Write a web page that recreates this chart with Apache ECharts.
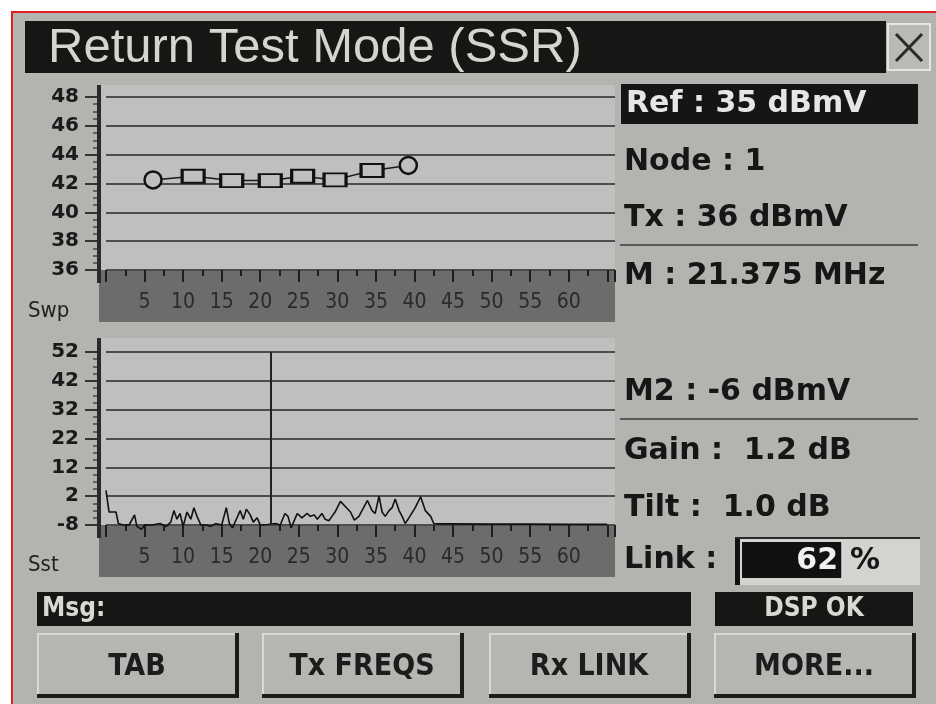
<!DOCTYPE html>
<html>
<head>
<meta charset="utf-8">
<title>Return Test Mode (SSR)</title>
<script src="https://cdn.jsdelivr.net/npm/echarts@6/dist/echarts.min.js"></script>
<style>
  html, body { margin: 0; padding: 0; background: #fff; }
  #chart { width: 936px; height: 704px; }
</style>
</head>
<body>
<div id="chart"></div>
<script>
// upper plot: return sweep levels per carrier
const sweepFreq = [6.1, 11.3, 16.3, 21.3, 25.5, 29.7, 34.5, 39.2];
const sweepLevel = [42.25, 42.5, 42.2, 42.2, 42.5, 42.25, 42.9, 43.25];

// lower plot: spectrum trace
const traceFreq = [0, 0.4, 1.3, 1.6, 2.2, 3.0, 3.7, 4.0, 4.6, 5.0,
  6.0, 7.0, 7.8, 8.4, 8.8, 9.2, 9.6, 10.0, 10.5, 11.0,
  11.4, 11.8, 12.3, 13.0, 13.6, 14.2, 15.0, 15.6, 16.0, 16.4,
  16.9, 17.4, 17.8, 18.2, 18.7, 19.1, 19.6, 20.0, 21.0, 22.0,
  22.6, 23.2, 23.6, 24.0, 24.8, 25.4, 26.1, 26.5, 27.0, 27.4,
  28.0, 28.4, 28.9, 29.3, 29.7, 30.4, 31.0, 31.7, 32.2, 32.8,
  33.4, 33.9, 34.5, 34.9, 35.4, 35.8, 36.2, 36.7, 37.1, 37.5,
  38.0, 38.4, 38.8, 39.4, 40.1, 40.8, 41.4, 42.1, 42.5, 43.0,
  45, 50, 55, 60, 65];
const traceLevel = [4.0, -3.5, -3.5, -7.5, -8, -8, -4.5, -8.5, -9.5, -8,
  -8, -7.5, -8.5, -7, -3, -6, -4, -8.5, -3.5, -6,
  -2, -5, -8, -8, -8.5, -7.5, -8, -2, -7.5, -9,
  -6, -3, -6, -2.5, -4.5, -7, -5.5, -8, -7.8, -7.5,
  -8, -4, -5, -9, -4, -5.5, -4, -5, -4.5, -6,
  -4, -6, -6.5, -5, -3.5, 0.2, -1.5, -3.5, -6.3, -5,
  -2, 0.5, -3, -4, 2, -3.5, -5, -3, -2, 1,
  -3, -5, -7.5, -5, -2, 1.8, -3, -5, -7.5, -7.6,
  -7.6, -7.7, -7.7, -7.8, -7.8];
const markerFreq = 21.375;

const xTickLabels = [5, 10, 15, 20, 25, 30, 35, 40, 45, 50, 55, 60];

const readouts = ['Node : 1', 'Tx : 36 dBmV', 'M : 21.375 MHz', 'M2 : -6 dBmV', 'Gain :  1.2 dB', 'Tilt :  1.0 dB', 'Link :'];
const readoutY = [162, 218, 276, 392, 451, 508, 560];
const refText = 'Ref : 35 dBmV';
const linkPercent = 62;
const buttons = ['TAB', 'Tx FREQS', 'Rx LINK', 'MORE...'];
const buttonX = [37, 262, 489, 714];

const BOLD = 'bold 30px "DejaVu Sans", sans-serif';
const NARROW = '"Liberation Sans Narrow", "DejaVu Sans Condensed", "Liberation Sans", sans-serif';
const DARK = '#161616';

function txt (x, y, text, font, fill, align) {
  return {
    type: 'text', z: 10,
    style: { x: x, y: y, text: text, font: font, fill: fill,
      align: align || 'left', textAlign: align || 'left',
      verticalAlign: 'middle', textVerticalAlign: 'middle' }
  }
}
function rect (x, y, w, h, fill, stroke, lw, z) {
  return { type: 'rect', z: z === undefined ? -10 : z, shape: { x: x, y: y, width: w, height: h },
    style: { fill: fill, stroke: stroke || null, lineWidth: lw || 0 } }
}
function line (x1, y1, x2, y2, color, w, z) {
  return { type: 'line', z: z === undefined ? -5 : z, shape: { x1: x1, y1: y1, x2: x2, y2: y2 },
    style: { stroke: color, lineWidth: w } }
}

const graphics = [
  rect(12, 12, 930, 700, '#b2b4b0', '#e02020', 2, -20),
  rect(25, 21, 861, 52, '#151714'),
  txt(48, 48, 'Return Test Mode (SSR)', 'normal 49px "Liberation Sans", Arial, sans-serif', '#d4d5d0'),
  rect(888, 24, 42, 46, '#b9bab6', '#e4e4e2', 2),
  line(896, 34, 922, 61, '#2a2a2a', 3, 5),
  line(922, 34, 896, 61, '#2a2a2a', 3, 5),
  // plot areas and dark scale bands
  rect(99, 85, 516, 185, '#bfbfbf'),
  rect(99, 270, 516, 52, '#6c6c6c'),
  rect(99, 338, 516, 187, '#bfbfbf'),
  rect(99, 525, 516, 52, '#6c6c6c'),
  line(99, 85, 99, 283, '#2a2a2a', 4, 5),
  line(99, 338, 99, 538, '#2a2a2a', 4, 5),
  txt(28, 311, 'Swp', 'normal 22px ' + NARROW, '#222'),
  txt(28, 565, 'Sst', 'normal 22px ' + NARROW, '#222'),
  // right readouts
  rect(621, 84, 297, 40, '#151515'),
  txt(626, 104, refText, BOLD, '#e6e6e6'),
  line(620, 245, 918, 245, '#5a5a5a', 2),
  line(620, 419, 918, 419, '#5a5a5a', 2),
  // link box
  rect(736, 537, 184, 48, '#d3d4d0'),
  line(735, 538, 920, 538, '#2a2a2a', 2),
  rect(735, 537, 5, 48, '#111'),
  rect(742, 542, 160 * linkPercent / 100, 36, '#111', null, 0, -4),
  txt(838, 561, String(linkPercent), BOLD, '#f0f0f0', 'right'),
  txt(850, 561, '%', BOLD, DARK),
  // message bars
  rect(37, 592, 654, 34, '#151714'),
  txt(42, 609, 'Msg:', 'bold 26px ' + NARROW, '#d8d8d4'),
  rect(715, 592, 198, 34, '#151714'),
  txt(814, 609, 'DSP OK', 'bold 26px ' + NARROW, '#d8d8d4', 'center')
];

readouts.forEach(function (t, i) {
  graphics.push(txt(624, readoutY[i], t, BOLD, DARK));
});

buttons.forEach(function (b, i) {
  const x = buttonX[i];
  graphics.push(rect(x, 633, 200, 64, '#b4b6b2'));
  graphics.push(line(x, 634, x + 200, 634, '#d8d9d6', 2));
  graphics.push(line(x + 1, 633, x + 1, 697, '#d8d9d6', 2));
  graphics.push(line(x, 696, x + 202, 696, '#1c1c1c', 4));
  graphics.push(line(x + 200, 633, x + 200, 698, '#1c1c1c', 4));
  graphics.push(txt(x + 100, 667, b, 'bold 30px ' + NARROW, '#1c1c1c', 'center'));
});

function xAxisCfg (gridIndex) {
  return {
    type: 'value', gridIndex: gridIndex, min: 0, max: 66, interval: 5,
    axisLine: { show: false, onZero: false },
    axisTick: { show: true, length: 12, lineStyle: { color: '#1e1e1e', width: 2 } },
    minorTick: { show: true, splitNumber: 2, length: 6, lineStyle: { color: '#1e1e1e', width: 2 } },
    splitLine: { show: false },
    axisLabel: {
      margin: 22, fontSize: 21, fontFamily: NARROW, color: '#2a2a2a',
      formatter: function (v) { return xTickLabels.indexOf(v) >= 0 ? String(v) : '' }
    }
  }
}
function yAxisCfg (gridIndex, min, max, interval) {
  return {
    type: 'value', gridIndex: gridIndex, min: min, max: max, interval: interval, offset: 7,
    axisLine: { show: false, onZero: false },
    axisTick: { show: true, length: 14, lineStyle: { color: '#333', width: 2 } },
    minorTick: { show: true, splitNumber: 4, length: 6, lineStyle: { color: '#444', width: 1.5 } },
    splitLine: { show: true, lineStyle: { color: '#4d4d4d', width: 2 } },
    axisLabel: { margin: 20, fontSize: 20, fontWeight: 'bold', fontFamily: '"DejaVu Sans", sans-serif', color: '#1a1a1a' }
  }
}

const option = {
  animation: false,
  backgroundColor: '#ffffff',
  graphic: { elements: graphics },
  grid: [
    { left: 106, right: 321, top: 97, bottom: 434 },
    { left: 106, right: 321, top: 352, bottom: 179 }
  ],
  xAxis: [xAxisCfg(0), xAxisCfg(1)],
  yAxis: [yAxisCfg(0, 36, 48, 2), yAxisCfg(1, -8, 52, 10)],
  series: [
    {
      type: 'line', xAxisIndex: 0, yAxisIndex: 0, z: 3,
      data: sweepFreq.map(function (f, i) { return [f, sweepLevel[i]] }),
      symbol: function (v, p) { return (p.dataIndex === 0 || p.dataIndex === sweepFreq.length - 1) ? 'circle' : 'rect' },
      symbolSize: function (v, p) { return (p.dataIndex === 0 || p.dataIndex === sweepFreq.length - 1) ? 17 : [22, 13] },
      lineStyle: { color: '#1a1a1a', width: 1.5 },
      itemStyle: { color: '#bfbfbf', borderColor: '#111', borderWidth: 2.5 }
    },
    {
      type: 'line', xAxisIndex: 1, yAxisIndex: 1, z: 3, clip: false,
      data: traceFreq.map(function (f, i) { return [f, traceLevel[i]] }),
      showSymbol: false,
      lineStyle: { color: '#111', width: 1.6 },
      markLine: {
        silent: true, symbol: ['none', 'none'], label: { show: false },
        lineStyle: { color: '#222', width: 2, type: 'solid' },
        data: [{ xAxis: markerFreq }]
      }
    }
  ]
};

const chart = echarts.init(document.getElementById('chart'), null, { width: 936, height: 704 });
chart.setOption(option);
</script>
</body>
</html>
